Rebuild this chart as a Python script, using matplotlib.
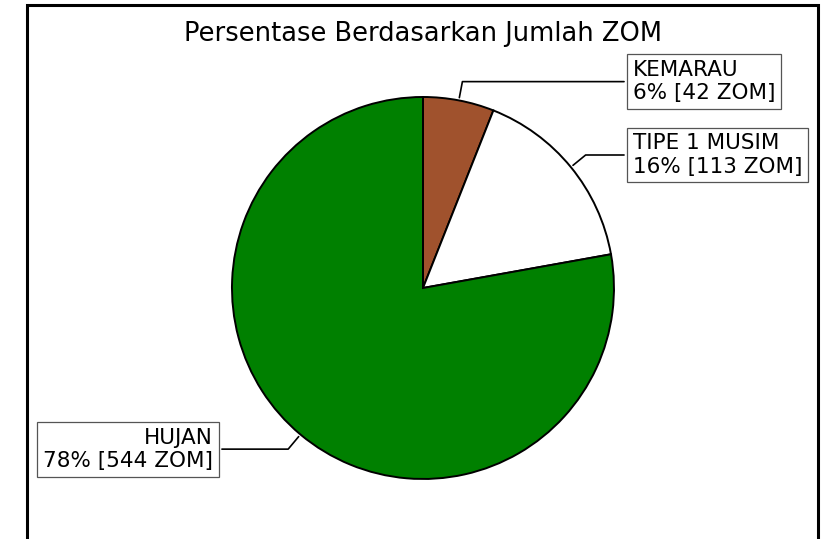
import matplotlib
matplotlib.use('Agg')
import matplotlib.pyplot as plt
from matplotlib.patches import Rectangle
import numpy as np

# ===================== DATA =====================
categories = ["KEMARAU", "TIPE 1 MUSIM", "HUJAN"]
counts = [42, 113, 544]
colors = ["sienna", "white", "green"]
title = "Persentase Berdasarkan Jumlah ZOM"

total = sum(counts)

# ===================== FIGURE =====================
fig = plt.figure(figsize=(8.21, 5.39), dpi=100)
ax = fig.add_axes([0.2244, 0.0227, 0.5816, 0.886])

wedges, _ = ax.pie(counts, colors=colors, startangle=90, counterclock=False,
                   wedgeprops=dict(edgecolor="black", linewidth=1.4))
ax.set_xlim(-1.25, 1.25)
ax.set_ylim(-1.25, 1.25)
ax.set_aspect("equal")
ax.set_title(title, fontsize=18.5, pad=6)

# outer frame
fig.patches.append(Rectangle((27 / 821, -0.1), (818 - 27) / 821, 1.1 - 5.5 / 539,
                             transform=fig.transFigure, fill=False,
                             edgecolor="black", linewidth=2.2))

# ===================== LABELS =====================
bbox_props = dict(boxstyle="square,pad=0.27", fc="white", ec="#555555", lw=0.9)
for i, w in enumerate(wedges):
    ang = (w.theta2 - w.theta1) / 2. + w.theta1
    y = np.sin(np.deg2rad(ang))
    x = np.cos(np.deg2rad(ang))
    ha = {-1: "right", 1: "left"}[int(np.sign(x))]
    pct = round(counts[i] / total * 100)
    label = f"{categories[i]}\n{pct}% [{counts[i]} ZOM]"
    ax.annotate(label, xy=(x, y), xytext=(1.1 * np.sign(x), 1.1 * y),
                ha=ha, va="center", fontsize=15.5,
                bbox=bbox_props,
                arrowprops=dict(arrowstyle="-", color="black", lw=1.2,
                                connectionstyle=f"angle,angleA=0,angleB={ang}"))

fig.savefig("out.png", dpi=100)
